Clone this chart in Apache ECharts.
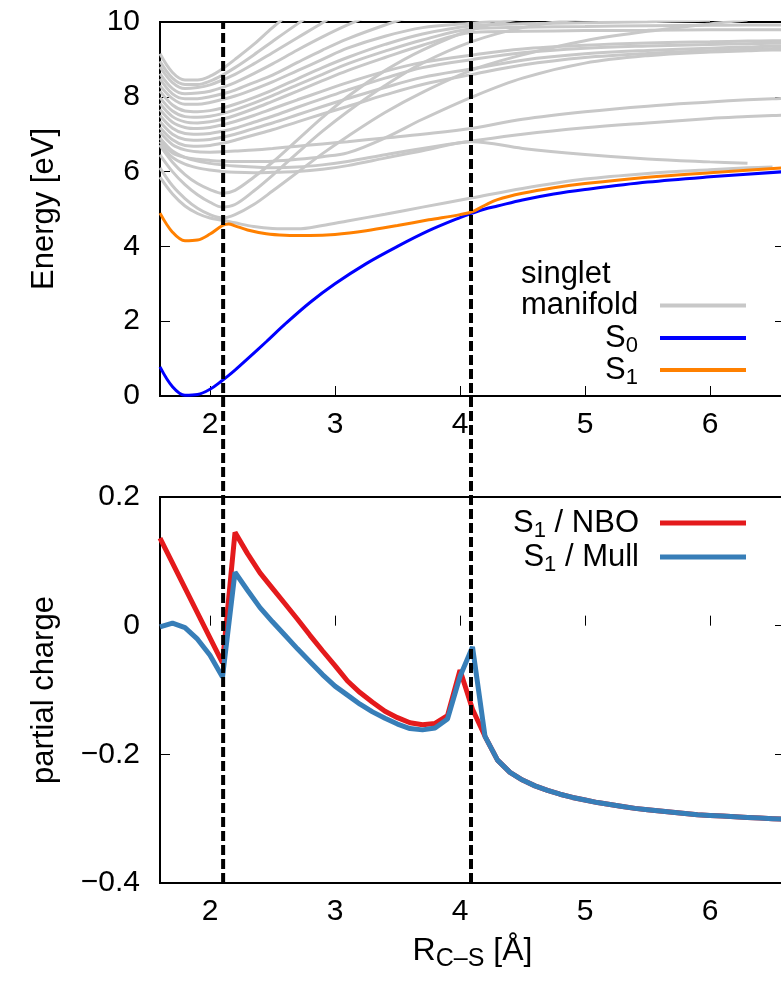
<!DOCTYPE html>
<html><head><meta charset="utf-8">
<script src="https://cdn.jsdelivr.net/npm/echarts@6/dist/echarts.min.js"></script>
<style>html,body{margin:0;padding:0;background:#fff}#c{width:781px;height:986px}</style>
</head><body><div id="c"></div>
<script>
// ---------- data ----------
const xTickValues = [2, 3, 4, 5, 6];
const dashedX = [2.105, 4.088];

// grid of R values used for the singlet manifold curves
const manifoldX = [1.6,1.7,1.8,1.9,2.0,2.1,2.2,2.35,2.5,2.7,2.9,3.1,3.4,3.7,4.1,4.5,5.0,5.5,6.0,6.3,6.5,6.6];
const manifold = [
  [9.15,8.65,8.45,8.45,8.55,8.75,9.0,9.4,9.85,10.4,null,null,null,null,null,null,null,null,null,null,null,null],
  [8.95,8.5,8.33,8.33,8.42,8.58,8.78,9.12,9.48,9.95,10.4,null,null,null,null,null,null,null,null,null,null,null],
  [8.8,8.38,8.22,8.25,8.32,8.45,8.6,8.88,9.18,9.58,9.98,10.4,null,null,null,null,null,null,null,null,null,null],
  [8.62,8.22,8.08,8.1,8.15,8.25,8.38,8.62,8.88,9.25,9.6,9.92,10.35,null,null,null,null,null,null,null,null,null],
  [8.48,8.08,7.95,7.95,8.0,8.08,8.18,8.38,8.58,8.92,9.25,9.55,9.92,10.25,null,null,null,null,null,null,null,null],
  [8.3,7.95,7.8,7.8,7.85,7.93,8.02,8.2,8.4,8.7,9.0,9.3,9.62,9.85,9.97,10.1,null,null,null,null,null,null],
  [8.15,7.78,7.62,7.6,7.63,7.7,7.8,7.98,8.18,8.48,8.78,9.05,9.4,9.68,9.9,9.95,9.98,10.01,10.05,null,null,null],
  [7.98,7.62,7.47,7.45,7.48,7.55,7.65,7.83,8.03,8.32,8.6,8.88,9.22,9.52,9.82,9.86,9.88,9.9,9.91,9.92,9.92,9.92],
  [7.82,7.47,7.33,7.3,7.33,7.4,7.5,7.68,7.88,8.15,8.43,8.7,9.05,9.38,9.72,9.75,9.77,9.78,9.79,9.79,9.79,9.79],
  [7.66,7.32,7.18,7.15,7.18,7.25,7.34,7.5,7.68,7.92,8.15,8.38,8.68,8.92,9.12,9.28,9.38,9.44,9.47,9.49,9.5,9.5],
  [7.5,7.16,7.02,7.0,7.02,7.08,7.16,7.32,7.48,7.72,7.95,8.18,8.5,8.78,9.0,9.18,9.3,9.36,9.4,9.42,9.43,9.43],
  [7.34,7.0,6.86,6.84,6.86,6.92,7.0,7.15,7.3,7.52,7.74,7.95,8.25,8.52,8.75,8.98,9.15,9.24,9.3,9.33,9.35,9.35],
  [7.18,6.85,6.7,6.68,6.7,6.76,6.84,6.98,7.12,7.33,7.54,7.74,8.05,8.33,8.6,8.85,9.05,9.16,9.23,9.27,9.29,9.3],
  [7.05,6.72,6.58,6.53,6.52,6.53,6.55,6.58,6.62,6.68,6.74,6.8,6.9,7.0,7.16,7.4,7.6,7.75,7.86,7.92,7.95,7.96],
  [6.9,6.55,6.38,6.28,6.22,6.18,6.15,6.12,6.1,6.12,6.18,6.27,6.45,6.62,6.82,7.0,7.17,7.3,7.42,7.47,7.5,7.51],
  [6.8,6.5,6.38,6.33,6.3,6.28,6.27,6.27,6.28,6.33,6.4,6.5,6.9,7.4,8.0,8.5,8.9,9.1,9.2,9.23,9.25,9.25],
  [6.72,6.38,6.2,6.1,6.04,6.0,5.98,5.97,5.98,6.0,6.06,6.16,6.36,6.56,6.8,6.62,6.46,6.34,6.26,6.22,null,null],
  [6.7,6.25,5.92,5.68,5.52,5.42,5.5,5.85,6.25,6.85,7.45,8.0,8.7,9.25,9.8,10.1,null,null,null,null,null,null],
  [6.45,6.0,5.65,5.38,5.18,5.05,5.12,5.48,5.9,6.5,7.08,7.6,8.3,8.9,9.48,9.85,10.1,null,null,null,null,null],
  [6.1,5.62,5.28,5.02,4.85,4.76,4.85,5.12,5.48,5.98,6.48,6.94,7.58,8.12,8.72,9.12,9.5,9.75,9.95,10.05,null,null],
  [5.85,5.4,5.08,4.88,4.76,4.7,4.63,4.53,4.48,4.47,4.56,4.68,4.86,5.05,5.3,5.55,5.8,5.95,6.05,6.1,6.12,null]
];

// S0 / S1 potential curves
const stateX = [1.6,1.7,1.8,1.9,2.0,2.1,2.15,2.2,2.3,2.45,2.6,2.8,3.0,3.25,3.5,3.75,4.0,4.1,4.2,4.3,4.5,4.75,5.0,5.5,6.0,6.6];
const s0Energy = [0.78,0.25,0.02,0.04,0.18,0.42,0.55,0.69,0.99,1.45,1.92,2.5,3.0,3.54,4.0,4.42,4.77,4.89,5.0,5.08,5.24,5.4,5.52,5.72,5.86,6.0];
const s1Energy = [4.89,4.38,4.15,4.17,4.33,4.56,4.6,4.55,4.44,4.34,4.3,4.29,4.32,4.42,4.56,4.71,4.85,4.93,5.1,5.25,5.42,5.57,5.68,5.85,5.97,6.1];

// partial charges
const chargeX = [1.6,1.7,1.8,1.9,2.0,2.1,2.2,2.3,2.4,2.5,2.6,2.7,2.8,2.9,3.0,3.1,3.2,3.3,3.4,3.5,3.6,3.7,3.8,3.9,4.0,4.1,4.2,4.3,4.4,4.5,4.6,4.7,4.8,4.9,5.0,5.1,5.2,5.3,5.4,5.5,5.6,5.7,5.8,5.9,6.0,6.1,6.2,6.3,6.4,6.5,6.6];
const nboCharge = [0.136,null,null,null,null,-0.058,0.145,0.112,0.082,0.058,0.034,0.010,-0.015,-0.039,-0.062,-0.086,-0.104,-0.119,-0.133,-0.143,-0.151,-0.154,-0.152,-0.140,-0.069,-0.130,-0.172,-0.209,-0.228,-0.240,-0.249,-0.256,-0.262,-0.267,-0.271,-0.275,-0.278,-0.281,-0.284,-0.286,-0.288,-0.290,-0.292,-0.294,-0.295,-0.296,-0.297,-0.298,-0.299,-0.300,-0.301];
const mullCharge = [-0.002,0.004,-0.003,-0.021,-0.046,-0.080,0.083,0.055,0.028,0.006,-0.015,-0.036,-0.056,-0.076,-0.094,-0.108,-0.122,-0.134,-0.144,-0.153,-0.160,-0.162,-0.159,-0.145,-0.079,-0.033,-0.172,-0.209,-0.228,-0.240,-0.249,-0.256,-0.262,-0.267,-0.271,-0.275,-0.278,-0.281,-0.284,-0.286,-0.288,-0.290,-0.292,-0.294,-0.295,-0.296,-0.297,-0.298,-0.299,-0.300,-0.301];

// ---------- chart ----------
const F = '"Liberation Sans", Arial, Helvetica, sans-serif';
const pairs = (xs, ys) => xs.map((x, i) => [x, ys[i]]);
const minus = v => (Math.abs(v) < 1e-9 ? '0' : v.toFixed(1).replace('-', '\u2212'));

const tickStyle = {show: true, inside: true, length: 10, lineStyle: {color: '#000', width: 1}};
const labelStyle = {color: '#000', fontSize: 30, fontFamily: F};

function xAxisFor(grid, extra) {
  return Object.assign({
    type: 'value', gridIndex: grid, min: 1.6, max: 6.6,
    axisLine: {show: false}, splitLine: {show: false},
    axisTick: Object.assign({customValues: xTickValues}, tickStyle),
    axisLabel: Object.assign({customValues: xTickValues, margin: 14}, labelStyle)
  }, extra || {});
}
function rightAxis(grid, min, max, interval) {
  return {type: 'value', gridIndex: grid, position: 'right', min, max, interval,
    axisLine: {show: false}, splitLine: {show: false}, axisLabel: {show: false}, axisTick: tickStyle};
}

const series = [];
manifold.forEach(vals => series.push({
  name: 'singlet manifold', type: 'line', xAxisIndex: 0, yAxisIndex: 0,
  data: pairs(manifoldX, vals), showSymbol: false, symbol: 'none', smooth: 0.35,
  lineStyle: {color: '#c8c8c8', width: 3}, itemStyle: {color: '#c8c8c8'}, z: 2, silent: true
}));
series.push({name: 'S0', type: 'line', xAxisIndex: 0, yAxisIndex: 0, data: pairs(stateX, s0Energy),
  showSymbol: false, symbol: 'none', smooth: 0.35, lineStyle: {color: '#0000ff', width: 3}, itemStyle: {color: '#0000ff'}, z: 3});
series.push({name: 'S1', type: 'line', xAxisIndex: 0, yAxisIndex: 0, data: pairs(stateX, s1Energy),
  showSymbol: false, symbol: 'none', smooth: 0.35, lineStyle: {color: '#ff8000', width: 3}, itemStyle: {color: '#ff8000'}, z: 4});
series.push({name: 'S1 / NBO', type: 'line', xAxisIndex: 1, yAxisIndex: 2, data: pairs(chargeX, nboCharge),
  connectNulls: true, showSymbol: false, symbol: 'none', lineStyle: {color: '#e41a1c', width: 5}, itemStyle: {color: '#e41a1c'}, z: 3});
series.push({name: 'S1 / Mull', type: 'line', xAxisIndex: 1, yAxisIndex: 2, data: pairs(chargeX, mullCharge),
  showSymbol: false, symbol: 'none', lineStyle: {color: '#377eb8', width: 5}, itemStyle: {color: '#377eb8'}, z: 4});
dashedX.forEach(x => series.push({
  type: 'line', xAxisIndex: 2, yAxisIndex: 4, data: [[x, 0], [x, 1]], showSymbol: false, symbol: 'none',
  lineStyle: {color: '#000', width: 4, type: [10, 4]}, z: 10, silent: true, clip: false
}));

// subscript token: padded on top so that it sits lower than the main text
const subRich = {
  s: {fontSize: 22, lineHeight: 22, padding: [16, 0, 0, 0], fontFamily: F, color: '#000'},
  g: {width: 17}
};
function legendFor(name, top, fmt, extraRich, itemH) {
  return {
    data: [name], orient: 'vertical', align: 'right', right: 35, top: top, padding: 0,
    icon: 'rect', itemWidth: 86, itemHeight: itemH, selectedMode: false,
    formatter: fmt,
    textStyle: {fontSize: 31, lineHeight: 31, fontFamily: F, color: '#000', rich: Object.assign({}, subRich, extraRich || {})}
  };
}

const option = {
  animation: false,
  backgroundColor: '#fff',
  textStyle: {fontFamily: F},
  grid: [
    {left: 160, top: 22, width: 625, height: 374, show: true, borderColor: '#000', borderWidth: 2, outerBoundsMode: 'none'},
    {left: 160, top: 497, width: 625, height: 386, show: true, borderColor: '#000', borderWidth: 2, outerBoundsMode: 'none'},
    {left: 160, top: 22, width: 625, height: 861, show: false, outerBoundsMode: 'none'}
  ],
  xAxis: [
    xAxisFor(0),
    xAxisFor(1, {
      name: '{r|R}{s|C\u2013S}{r| [\u00c5]}', nameLocation: 'middle', nameGap: 52,
      nameTextStyle: {fontSize: 32, lineHeight: 32, fontFamily: F, color: '#000', rich: {
        r: {fontSize: 32, lineHeight: 32, fontFamily: F, color: '#000'},
        s: {fontSize: 25, lineHeight: 25, padding: [17, 0, 0, 0], fontFamily: F, color: '#000'}
      }}
    }),
    {type: 'value', gridIndex: 2, min: 1.6, max: 6.6, show: false}
  ],
  yAxis: [
    {type: 'value', gridIndex: 0, min: 0, max: 10, interval: 2,
      axisLine: {show: false}, splitLine: {show: false}, axisTick: tickStyle,
      axisLabel: Object.assign({margin: 20, formatter: v => String(v)}, labelStyle),
      name: 'Energy [eV]', nameLocation: 'middle', nameGap: 100,
      nameTextStyle: {fontSize: 31, fontFamily: F, color: '#000'}},
    rightAxis(0, 0, 10, 2),
    {type: 'value', gridIndex: 1, min: -0.4, max: 0.2, interval: 0.2,
      axisLine: {show: false}, splitLine: {show: false}, axisTick: tickStyle,
      axisLabel: Object.assign({margin: 20, formatter: minus}, labelStyle),
      name: 'partial charge', nameLocation: 'middle', nameGap: 100,
      nameTextStyle: {fontSize: 31, fontFamily: F, color: '#000'}},
    rightAxis(1, -0.4, 0.2, 0.2),
    {type: 'value', gridIndex: 2, min: 0, max: 1, show: false}
  ],
  legend: [
    legendFor('singlet manifold', 259, () => '{a|singlet}\n{a|manifold}\n{a| }',
      {a: {fontSize: 31, lineHeight: 31, width: 134, align: 'left', fontFamily: F, color: '#000'}}, 4),
    legendFor('S0', 319, () => 'S{s|0}{g| }', null, 4),
    legendFor('S1', 351, () => 'S{s|1}{g| }', null, 4),
    legendFor('S1 / NBO', 504, () => 'S{s|1} / NBO{g| }', {g: {width: 16}}, 5),
    legendFor('S1 / Mull', 538, () => 'S{s|1} / Mull{g| }', {g: {width: 16}}, 5)
  ],
  series
};

const chart = echarts.init(document.getElementById('c'), null, {renderer: 'canvas'});
chart.setOption(option);
</script>
</body></html>
